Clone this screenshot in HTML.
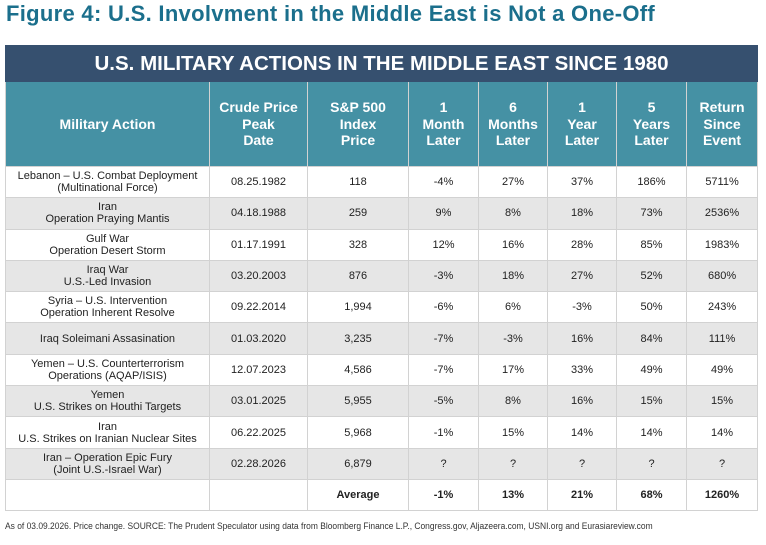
<!DOCTYPE html>
<html><head><meta charset="utf-8"><style>
body{margin:0;width:766px;height:545px;background:#fff;font-family:"Liberation Sans",sans-serif;position:relative;overflow:hidden}
.title{position:absolute;left:6px;top:1px;font-size:22px;font-weight:bold;color:#1b6f8c;white-space:nowrap;letter-spacing:0.3px}
table{position:absolute;left:5px;top:45px;border-collapse:collapse;table-layout:fixed;width:752px}
td{border:1.5px solid #d2d2d2;text-align:center;vertical-align:middle;font-size:11px;color:#222;padding:0;line-height:12px}
.nav td{background:#36506f;color:#fff;font-size:20.5px;font-weight:bold;height:35px;border-color:#36506f}
.hd td{background:#4591a4;color:#fff;font-size:14px;font-weight:bold;height:84px;line-height:16.5px;border-color:#d2d2d2}
tr.r td{height:30.3px}
tr.g td{background:#e6e6e6}
.avg td{font-weight:bold;height:29.8px}
.foot{position:absolute;left:5px;top:521px;font-size:9.6px;color:#333;white-space:nowrap;transform:scaleX(0.88);transform-origin:left}
</style></head><body>
<div class="title">Figure 4: U.S. Involvment in the Middle East is Not a One-Off</div>
<table>
<colgroup><col style="width:204px"><col style="width:98px"><col style="width:101px"><col style="width:70px"><col style="width:69px"><col style="width:69px"><col style="width:70px"><col style="width:71px"></colgroup>
<tr class="nav"><td colspan="8">U.S. MILITARY ACTIONS IN THE MIDDLE EAST SINCE 1980</td></tr>
<tr class="hd"><td>Military Action</td><td>Crude Price<br>Peak<br>Date</td><td>S&amp;P 500<br>Index<br>Price</td><td>1<br>Month<br>Later</td><td>6<br>Months<br>Later</td><td>1<br>Year<br>Later</td><td>5<br>Years<br>Later</td><td>Return<br>Since<br>Event</td></tr>
<tr class="r"><td>Lebanon – U.S. Combat Deployment<br>(Multinational Force)</td><td>08.25.1982</td><td>118</td><td>-4%</td><td>27%</td><td>37%</td><td>186%</td><td>5711%</td></tr>
<tr class="r g"><td>Iran<br>Operation Praying Mantis</td><td>04.18.1988</td><td>259</td><td>9%</td><td>8%</td><td>18%</td><td>73%</td><td>2536%</td></tr>
<tr class="r"><td>Gulf War<br>Operation Desert Storm</td><td>01.17.1991</td><td>328</td><td>12%</td><td>16%</td><td>28%</td><td>85%</td><td>1983%</td></tr>
<tr class="r g"><td>Iraq War<br>U.S.-Led Invasion</td><td>03.20.2003</td><td>876</td><td>-3%</td><td>18%</td><td>27%</td><td>52%</td><td>680%</td></tr>
<tr class="r"><td>Syria – U.S. Intervention<br>Operation Inherent Resolve</td><td>09.22.2014</td><td>1,994</td><td>-6%</td><td>6%</td><td>-3%</td><td>50%</td><td>243%</td></tr>
<tr class="r g"><td>Iraq Soleimani Assasination</td><td>01.03.2020</td><td>3,235</td><td>-7%</td><td>-3%</td><td>16%</td><td>84%</td><td>111%</td></tr>
<tr class="r"><td>Yemen – U.S. Counterterrorism<br>Operations (AQAP/ISIS)</td><td>12.07.2023</td><td>4,586</td><td>-7%</td><td>17%</td><td>33%</td><td>49%</td><td>49%</td></tr>
<tr class="r g"><td>Yemen<br>U.S. Strikes on Houthi Targets</td><td>03.01.2025</td><td>5,955</td><td>-5%</td><td>8%</td><td>16%</td><td>15%</td><td>15%</td></tr>
<tr class="r"><td>Iran<br>U.S. Strikes on Iranian Nuclear Sites</td><td>06.22.2025</td><td>5,968</td><td>-1%</td><td>15%</td><td>14%</td><td>14%</td><td>14%</td></tr>
<tr class="r g"><td>Iran – Operation Epic Fury<br>(Joint U.S.-Israel War)</td><td>02.28.2026</td><td>6,879</td><td>?</td><td>?</td><td>?</td><td>?</td><td>?</td></tr>
<tr class="avg"><td></td><td></td><td>Average</td><td>-1%</td><td>13%</td><td>21%</td><td>68%</td><td>1260%</td></tr>
</table>
<div class="foot">As of 03.09.2026. Price change. SOURCE: The Prudent Speculator using data from Bloomberg Finance L.P.,  Congress.gov, Aljazeera.com, USNI.org and Eurasiareview.com</div>
</body></html>
